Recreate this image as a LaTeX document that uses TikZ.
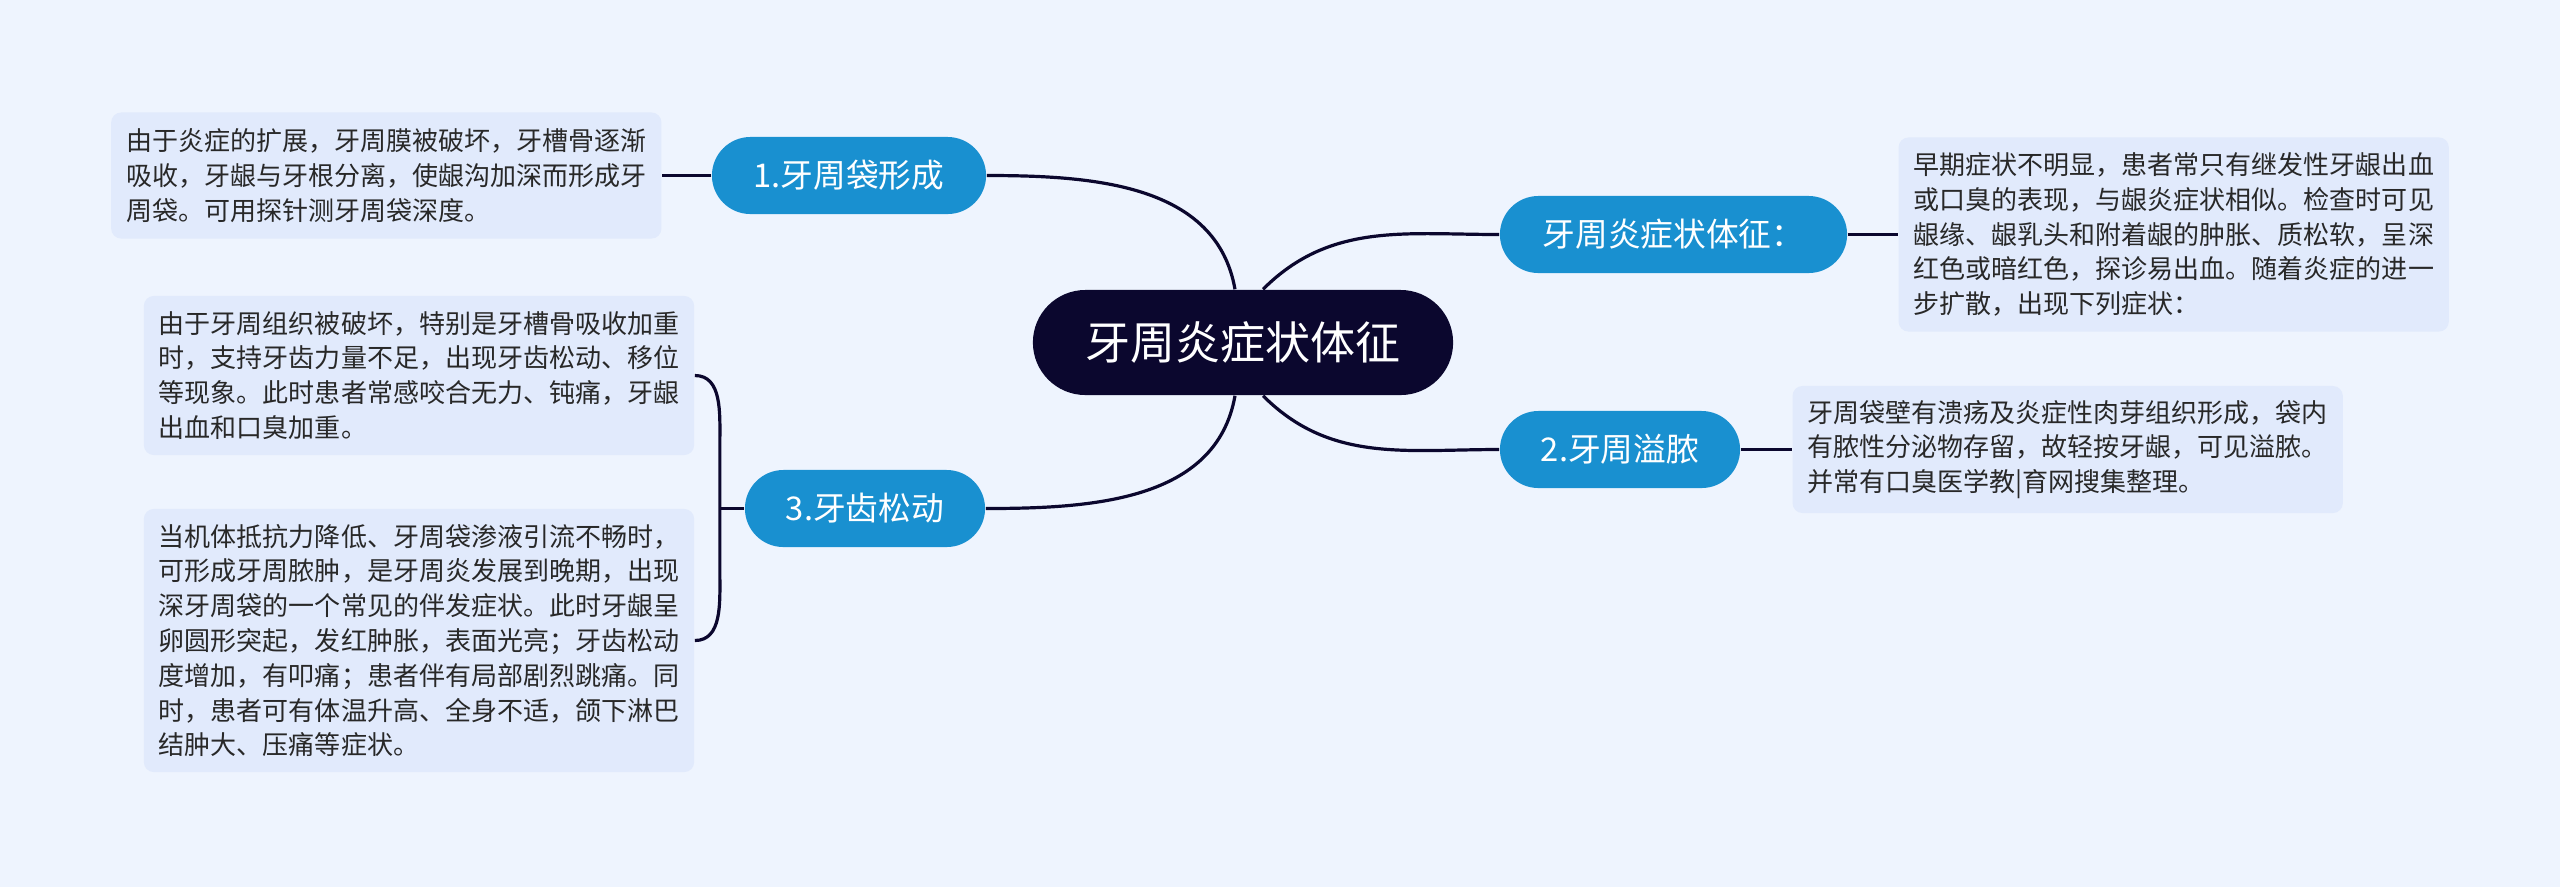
\documentclass[tikz,border=0pt]{standalone}
\usepackage{fontspec}
\newfontfamily\cjk{Noto Sans CJK SC}
\usepackage{tikz}
\usepackage{xcolor}
\usetikzlibrary{positioning}
\definecolor{sfondo}{RGB}{238,244,254}
\definecolor{blu}{RGB}{25,144,208}
\definecolor{notte}{RGB}{11,7,46}
\definecolor{riquadro}{RGB}{225,234,252}
\definecolor{grigio}{RGB}{40,40,40}

\begin{document}
\begin{tikzpicture}[x=0.01cm, y=0.01cm,
  radice/.style={rectangle, fill=notte, rounded corners=0.525cm, minimum width=4.2cm, minimum height=1.05cm, inner sep=0pt, text=white, font=\cjk\fontsize{12.8}{15}\selectfont},
  ramo/.style={rectangle, fill=blu, rounded corners=0.385cm, minimum height=0.77cm, inner sep=0pt, text=white, font=\cjk\fontsize{9.3}{11}\selectfont},
  testo/.style={rectangle, fill=riquadro, rounded corners=0.1cm, text width=5.2cm, inner xsep=0.15cm, inner ysep=0pt, align=left, text=grigio, font=\cjk\fontsize{7.4}{9.9}\selectfont},
  linea/.style={draw=notte, line width=0.032cm}]
\useasboundingbox (0,0) rectangle (2560,-887);
\fill[sfondo] (0,0) rectangle (2560,-887);

% Centro
\node[radice] (tit) at (1243,-342.5) {牙周炎症状体征};

% Rami
\node[ramo, minimum width=2.74cm] (dai) at (849,-175.5) {1.牙周袋形成};
\node[ramo, minimum width=3.47cm] (tz) at (1673.5,-234.5) {牙周炎症状体征：};
\node[ramo, minimum width=2.4cm] (yn) at (1620,-449.5) {2.牙周溢脓};
\node[ramo, minimum width=2.4cm] (sd) at (865,-508.5) {3.牙齿松动};

\draw[linea] ([xshift=-0.08cm]tit.north) to[out=100, in=0] (dai.east);
\draw[linea] ([xshift=0.2cm]tit.north) to[out=45, in=180] (tz.west);
\draw[linea] ([xshift=0.2cm]tit.south) to[out=-45, in=180] (yn.west);
\draw[linea] ([xshift=-0.08cm]tit.south) to[out=-100, in=0] (sd.east);

% Testi
\node[testo, minimum height=1.26cm, left=0.49cm of dai] (dai_t) {由于炎症的扩展，牙周膜被破坏，牙槽骨逐渐\\
吸收，牙龈与牙根分离，使龈沟加深而形成牙\\
周袋。可用探针测牙周袋深度。};
\node[testo, minimum height=1.94cm, right=0.5cm of tz] (tz_t) {早期症状不明显，患者常只有继发性牙龈出血\\
或口臭的表现，与龈炎症状相似。检查时可见\\
龈缘、龈乳头和附着龈的肿胀、质松软，呈深\\
红色或暗红色，探诊易出血。随着炎症的进一\\
步扩散，出现下列症状：};
\node[testo, minimum height=1.27cm, right=0.51cm of yn] (yn_t) {牙周袋壁有溃疡及炎症性肉芽组织形成，袋内\\
有脓性分泌物存留，故轻按牙龈，可见溢脓。\\
并常有口臭医学教|育网搜集整理。};
\node[testo, minimum height=1.59cm] (sd_a) at (419,-375.5) {由于牙周组织被破坏，特别是牙槽骨吸收加重\\
时，支持牙齿力量不足，出现牙齿松动、移位\\
等现象。此时患者常感咬合无力、钝痛，牙龈\\
出血和口臭加重。};
\node[testo, minimum height=2.63cm] (sd_b) at (419,-640.5) {当机体抵抗力降低、牙周袋渗液引流不畅时，\\
可形成牙周脓肿，是牙周炎发展到晚期，出现\\
深牙周袋的一个常见的伴发症状。此时牙龈呈\\
卵圆形突起，发红肿胀，表面光亮；牙齿松动\\
度增加，有叩痛；患者伴有局部剧烈跳痛。同\\
时，患者可有体温升高、全身不适，颌下淋巴\\
结肿大、压痛等症状。};

\draw[linea] (dai) -- (dai_t);
\draw[linea] (tz) -- (tz_t);
\draw[linea] (yn) -- (yn_t);

% Graffa
\coordinate (graffa) at ([xshift=0.25cm]sd_a.east |- sd.west);
\draw[linea] (sd_a.east) to[out=0, in=90] ([xshift=0.25cm, yshift=-0.65cm]sd_a.east) -- ([xshift=0.25cm, yshift=0.65cm]sd_b.east) to[out=-90, in=0] (sd_b.east);
\draw[linea] (sd) -- (graffa);
\end{tikzpicture}
\end{document}
